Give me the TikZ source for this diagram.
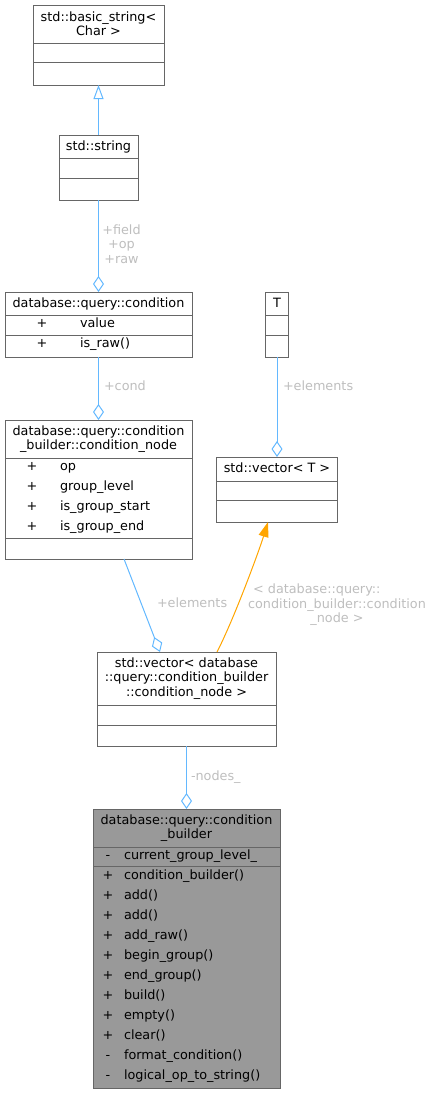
\documentclass[tikz,border=0pt]{standalone}
\usepackage{fontspec}
\setmainfont{DejaVu Sans}
\usepackage{calc}
\usetikzlibrary{arrows.meta}
\definecolor{edgeblue}{HTML}{63B8FF}
\definecolor{edgeorange}{HTML}{FFA500}
\definecolor{lblgray}{HTML}{BEBEBE}
\definecolor{bordergray}{HTML}{666666}
\definecolor{mainfill}{HTML}{999999}
\newcommand{\hdiv}[2]{\draw[bd] ([yshift=-#2pt]#1.north west) -- ([yshift=-#2pt]#1.north east);}
\begin{document}
\begin{tikzpicture}[x=1pt,y=-1pt,
  every node/.style={font=\fontsize{12.8}{14.5}\selectfont, inner sep=0pt, outer sep=0pt},
  bd/.style={draw=bordergray, line width=1pt},
  cls/.style={draw=bordergray, line width=1pt, fill=white, anchor=north west, rectangle},
  mcls/.style={cls, fill=mainfill},
  ttl/.style={anchor=center, align=center},
  row/.style={text height=9.5pt, text depth=2.9pt},
  vis/.style={row, anchor=center},
  mem/.style={row, anchor=west},
  lbl/.style={text=lblgray},
  agg/.style={draw=edgeblue, line width=1pt, -{Diamond[open, length=16pt, width=11pt]}},
  inh/.style={draw=edgeblue, line width=1pt, -{Triangle[open, length=14pt, width=10pt]}},
  tmpl/.style={draw=edgeorange, line width=1pt, -{Triangle[length=15pt, width=10pt, fill=edgeorange]}},
]
\useasboundingbox (0,0) rectangle (433,1095);

% std::basic_string< Char >
\node[cls, minimum width=131pt, minimum height=80pt] (bs) at (33,5) {};
\hdiv{bs}{38}\hdiv{bs}{57}
\node[ttl] (bst) at (98.5,23.5) {std::basic\_string<\\Char >};

% std::string
\node[cls, minimum width=79pt, minimum height=65pt] (str) at (59,135) {};
\hdiv{str}{23}\hdiv{str}{43}
\node[vis] (strt) at (98.5,147) {std::string};

% database::query::condition
\node[cls, minimum width=187pt, minimum height=65pt] (cond) at (5,292) {};
\hdiv{cond}{23}\hdiv{cond}{43}
\node[vis] (condt) at (98.5,304) {database::query::condition};
\node[vis] (condp1) at (42,324) {+};
\node[mem] (condm1) at (80,324) {value};
\node[vis] (condp2) at (42,344) {+};
\node[mem] (condm2) at (80,344) {is\_raw()};

% T
\node[cls, minimum width=23pt, minimum height=65pt] (T) at (265.5,292) {};
\hdiv{T}{23}\hdiv{T}{43}
\node[vis] (Tt) at (277,304) {T};

% condition_node
\node[cls, minimum width=187pt, minimum height=139pt] (cn) at (5,420) {};
\hdiv{cn}{38}\hdiv{cn}{118}
\node[ttl] (cnt) at (98.5,439) {database::query::condition\\\_builder::condition\_node};
\node[vis] (cnp1) at (32,467) {+};
\node[mem] (cnm1) at (60,467) {op};
\node[vis] (cnp2) at (32,487) {+};
\node[mem] (cnm2) at (60,487) {group\_level};
\node[vis] (cnp3) at (32,507) {+};
\node[mem] (cnm3) at (60,507) {is\_group\_start};
\node[vis] (cnp4) at (32,527) {+};
\node[mem] (cnm4) at (60,527) {is\_group\_end};

% std::vector< T >
\node[cls, minimum width=121pt, minimum height=65pt] (vt) at (216.5,457) {};
\hdiv{vt}{24}\hdiv{vt}{43}
\node[vis] (vtt) at (277,469) {std::vector< T >};

% std::vector< condition_node >
\node[cls, minimum width=179pt, minimum height=94pt] (vec) at (97,652) {};
\hdiv{vec}{53}\hdiv{vec}{73}
\node[ttl] (vect) at (186.5,678.5) {std::vector< database\\::query::condition\_builder\\::condition\_node >};

% main class
\node[mcls, minimum width=187pt, minimum height=279pt] (main) at (93,809) {};
\hdiv{main}{38}\hdiv{main}{57}
\node[ttl] (maint) at (186.5,828) {database::query::condition\\\_builder};
\node[vis] (mp0) at (108,856) {-};
\node[mem] (mm0) at (124,856) {current\_group\_level\_};
\foreach \v/\t [count=\i from 0] in {+/condition\_builder(), +/add(), +/add(), +/add\_raw(), +/begin\_group(), +/end\_group(), +/build(), +/empty(), +/clear(), -/format\_condition(), -/logical\_op\_to\_string()} {
  \node[vis] (mp\i x) at (108,876+20*\i) {\v};
  \node[mem] (mm\i x) at (124,876+20*\i) {\t};
}

% edges
\draw[inh] (str.north) -- (bs.south);
\draw[agg] (str.south) -- (cond.north);
\draw[agg] (cond.south) -- (cn.north);
\draw[agg] (T.south) -- (vt.north);
\draw[agg] ([xshift=119pt]cn.south west) -- ([xshift=63pt]vec.north west);
\draw[tmpl] ([xshift=120pt]vec.north west) .. controls (234,619) and (259,551) .. ([xshift=51.5pt]vt.south west);
\draw[agg] (vec.south) -- (main.north);

% edge labels
\node[lbl, align=center] (lf) at (121.5,244) {+field\\+op\\+raw};
\node[lbl, row, anchor=west] (lc) at (104,387) {+cond};
\node[lbl, row, anchor=west] (le1) at (283,387) {+elements};
\node[lbl, row, anchor=west] (le2) at (157,604) {+elements};
\node[lbl, row, anchor=west] (ln) at (191,777) {-nodes\_};
\node[lbl, align=center] (lt) at (337,605) {\makebox[\widthof{condition\_builder::condition}][l]{\hspace{5pt}< database::query::}\\condition\_builder::condition\\\_node >};
\end{tikzpicture}
\end{document}
